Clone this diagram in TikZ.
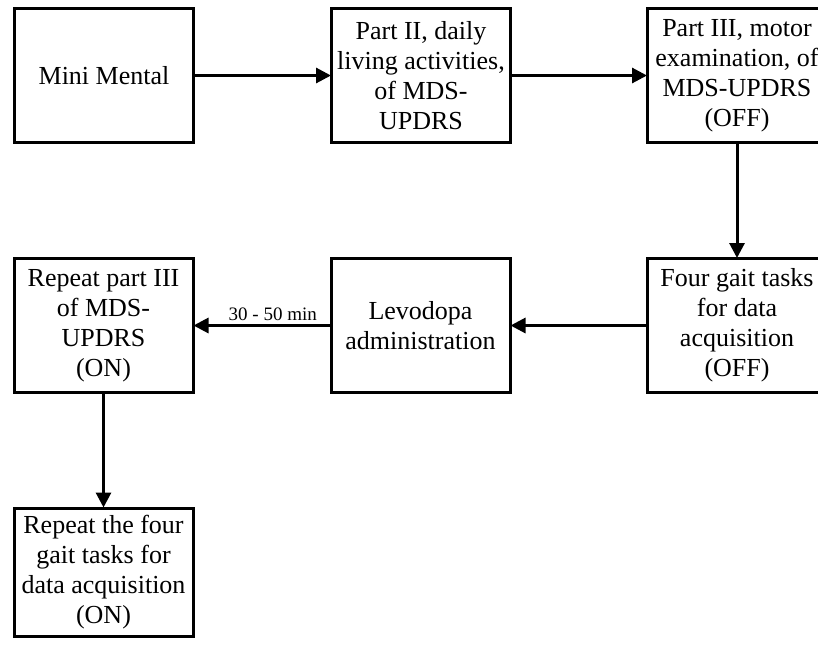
\documentclass[tikz,border=0pt]{standalone}
\usepackage{fontspec}
\setmainfont{Liberation Serif}
\usetikzlibrary{arrows.meta}
\begin{document}
\begin{tikzpicture}[x=1pt,y=-1pt,
  stepbox/.style={draw, line width=3pt, minimum width=179pt, minimum height=134pt,
    align=center, inner sep=2pt,
    font=\fontsize{26}{30}\selectfont},
  flow/.style={line width=3pt, -{Triangle[length=15pt,width=15pt]}, shorten >=-1pt}]
  \clip (0,0) rectangle (818,646);
  \fill[white] (0,0) rectangle (818,646);

  \node[stepbox] (mm) at (104,75.5) {Mini Mental};
  \node[stepbox] (p2) at (421,75.5) {Part II, daily\\living activities,\\of MDS-\\UPDRS};
  \node[stepbox] (p3) at (737,75.5) {Part III, motor\\examination, of\\MDS-UPDRS\\(OFF)};
  \node[stepbox] (fg) at (737,325.5) {Four gait tasks\\for data\\acquisition\\(OFF)};
  \node[stepbox] (lv) at (420.5,325.5) {Levodopa\\administration};
  \node[stepbox] (rp) at (103.5,325.5) {Repeat part III\\of MDS-\\UPDRS\\(ON)};
  \node[stepbox, minimum height=128pt] (rf) at (103.5,572) {Repeat the four\\gait tasks for\\data acquisition\\(ON)};

  \draw[flow] (mm) -- (p2);
  \draw[flow] (p2) -- (p3);
  \draw[flow] (p3) -- (fg);
  \draw[flow] (fg) -- (lv);
  \draw[flow] (lv) -- node[above, pos=0.42, font=\fontsize{19}{22}\selectfont, inner sep=3pt] {30 - 50 min} (rp);
  \draw[flow] (rp) -- (rf);
\end{tikzpicture}
\end{document}
